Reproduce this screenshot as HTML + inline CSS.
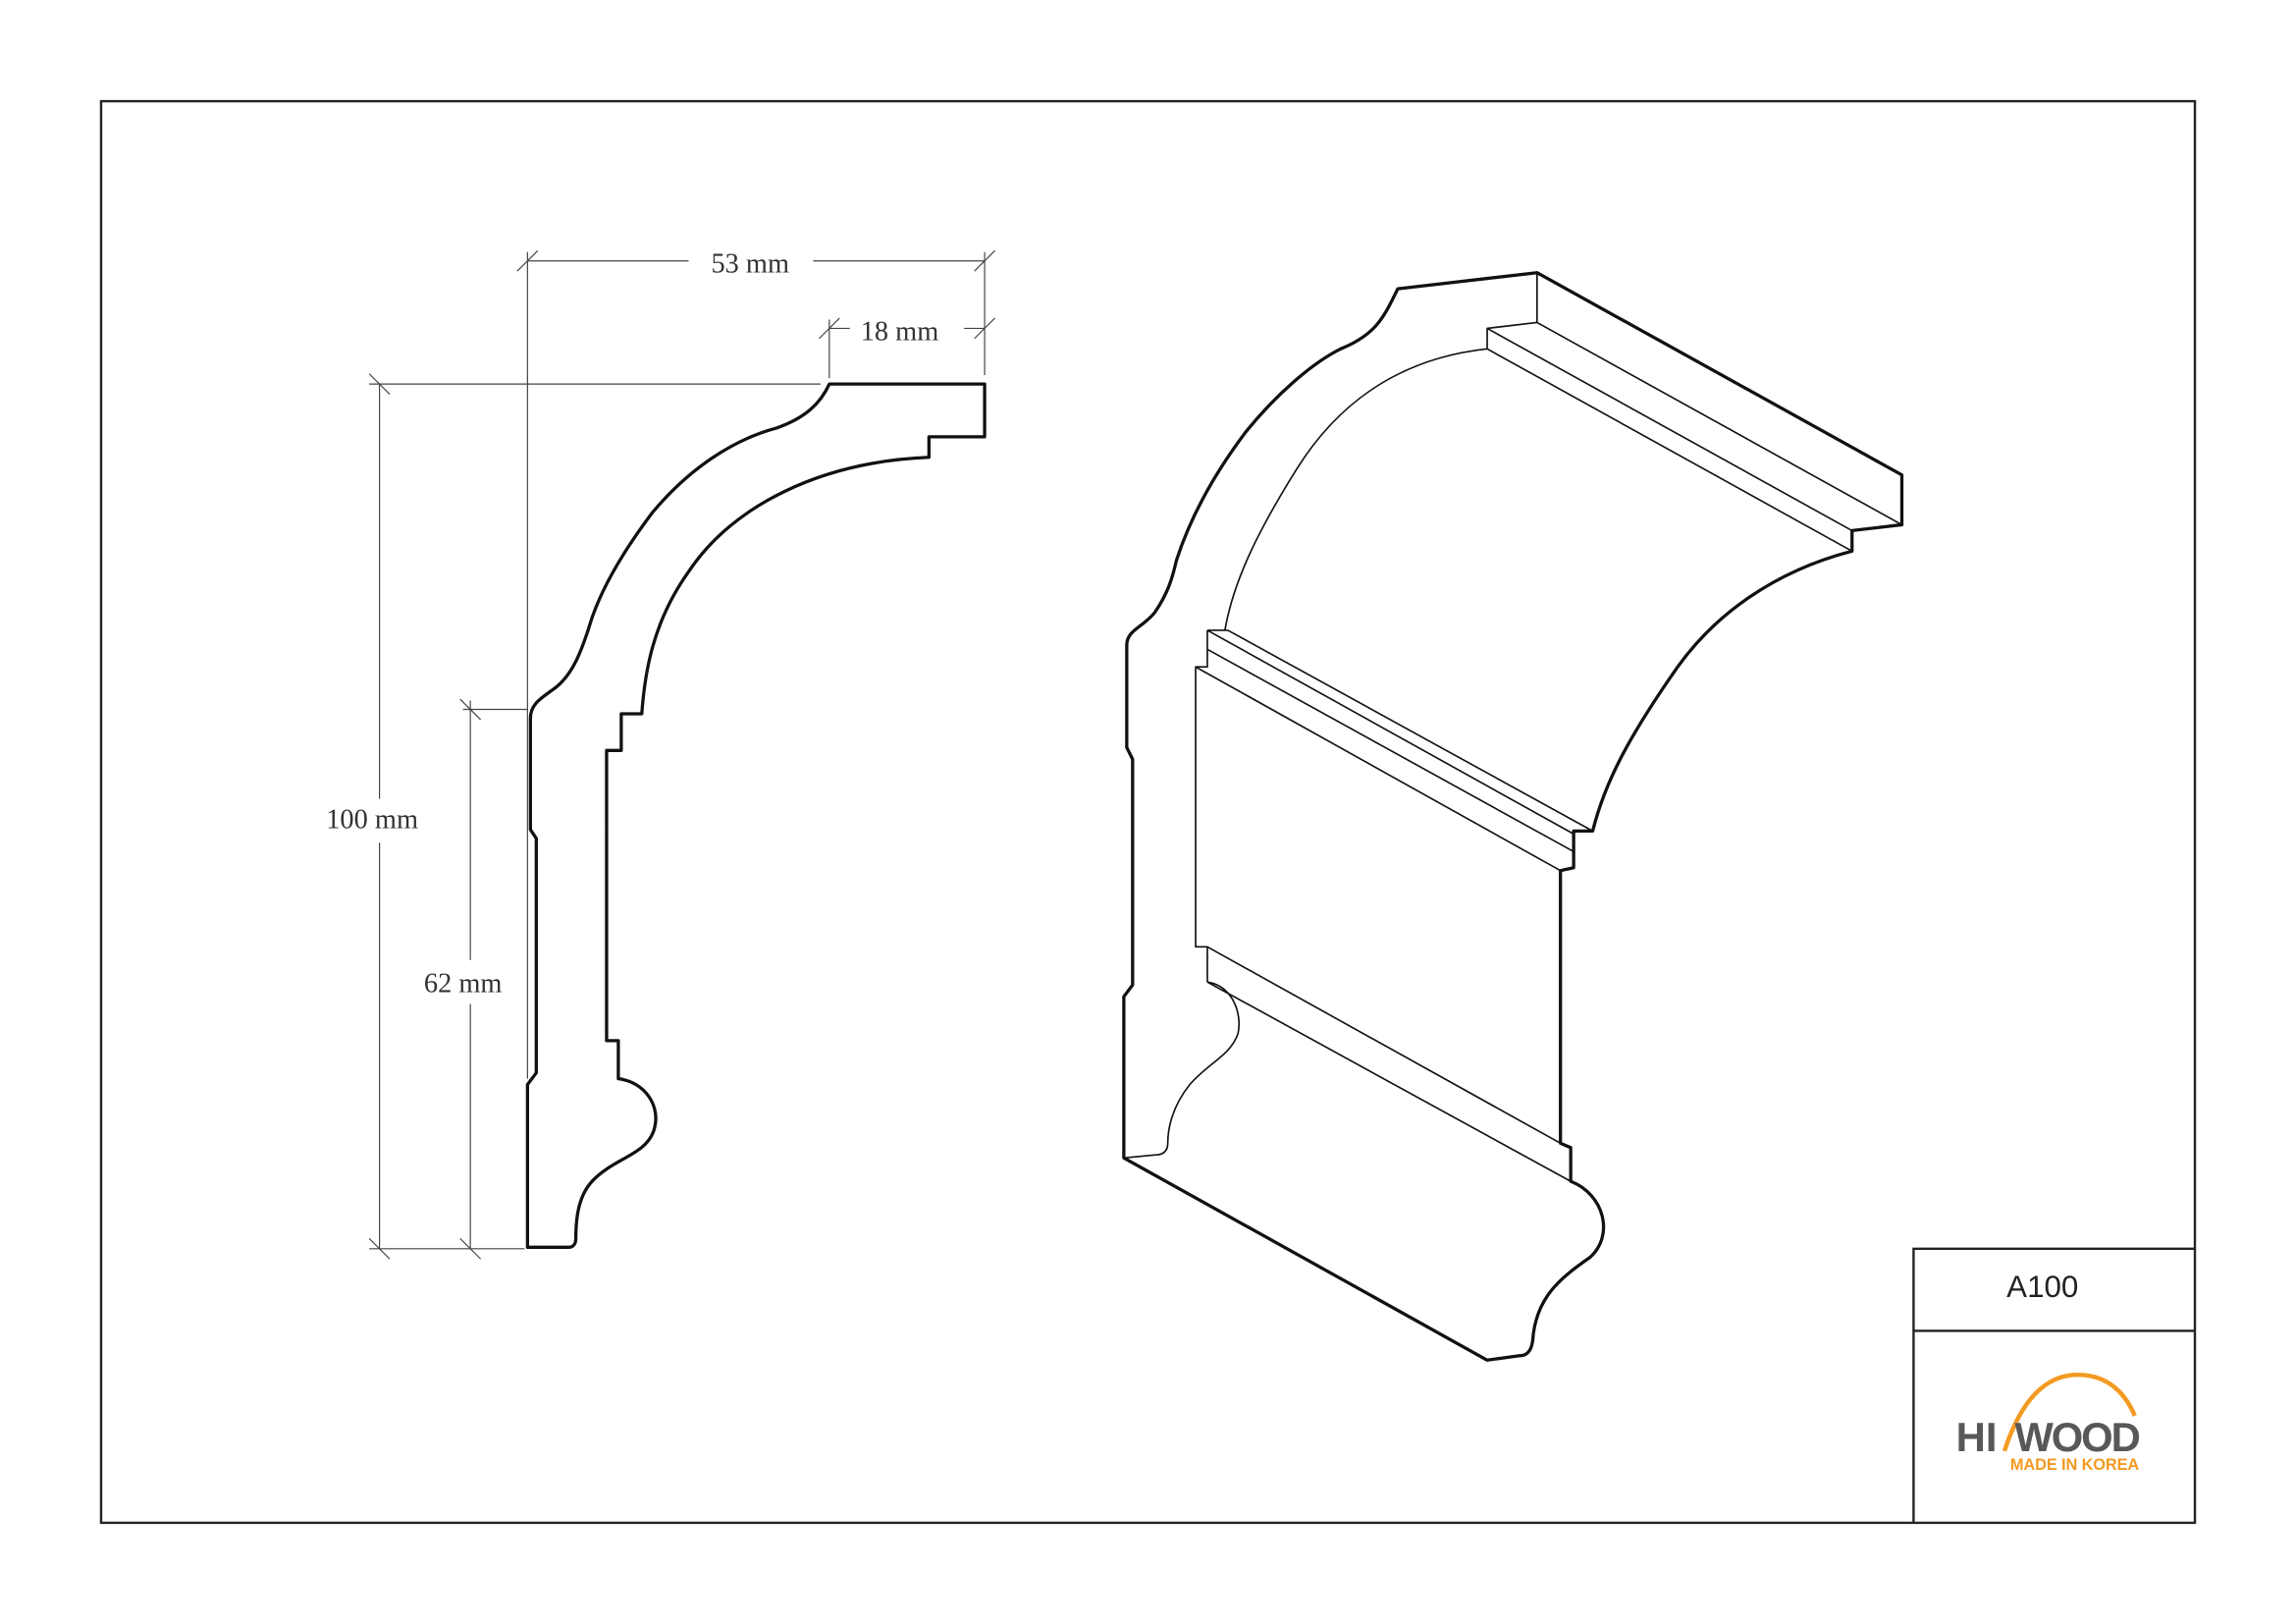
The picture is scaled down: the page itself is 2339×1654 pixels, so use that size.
<!DOCTYPE html>
<html><head><meta charset="utf-8"><style>
html,body{margin:0;padding:0;background:#fff;}
svg{display:block;}
</style></head><body>
<svg width="2339" height="1654" viewBox="0 0 1567 1108" xmlns="http://www.w3.org/2000/svg">
<rect x="0" y="0" width="1567" height="1108" fill="#fff"/>
<!-- frame -->
<rect x="69" y="69" width="1429" height="970" fill="none" stroke="#222" stroke-width="1.6"/>
<path d="M1306 1039 V852 H1498 M1306 908 H1498" fill="none" stroke="#222" stroke-width="1.6"/>
<text x="1394" y="885" font-family="Liberation Sans, sans-serif" font-size="21" text-anchor="middle" fill="#222">A100</text>
<!-- logo -->
<path d="M1368 990 Q1385 938 1418 938 Q1445 938 1457 966" fill="none" stroke="#f39a22" stroke-width="3"/>
<text x="1335" y="990" font-family="Liberation Sans, sans-serif" font-weight="bold" font-size="28" fill="#58585a">HI</text>
<text x="1375" y="990" font-family="Liberation Sans, sans-serif" font-weight="bold" font-size="28" fill="#58585a" textLength="86">WOOD</text>
<text x="1372" y="1003" font-family="Liberation Sans, sans-serif" font-weight="bold" font-size="11" fill="#f39a22" textLength="88">MADE IN KOREA</text>

<!-- dimension lines -->
<g stroke="#444" stroke-width="0.8" fill="none">
<path d="M360 172 V736 M360 178 H470 M555 178 H672 M672 172 V256 M566 218 V258 M566 224 H580 M658 224 H672 M252 262 H560 M259 262 V545 M259 575 V852 M252 852 H358 M321 478 V655 M321 685 V852 M316 484 H360"/>
<path d="M353 185 L367 171 M665 185 L679 171 M559 231 L573 217 M665 231 L679 217 M252 255 L266 269 M252 845 L266 859 M314 845 L328 859 M314 477 L328 491"/>
</g>
<g font-family="Liberation Serif, serif" font-size="19" fill="#333">
<text x="512" y="186" text-anchor="middle">53 mm</text>
<text x="614" y="232" text-anchor="middle">18 mm</text>
<text x="254" y="565" text-anchor="middle">100 mm</text>
<text x="316" y="677" text-anchor="middle">62 mm</text>
</g>

<!-- profile -->
<path d="M566 262 H672 V298 H634 V312 C560 315 500 345 470 390 C445 425 440 460 438 487 H424 V512 H414 V710 H422 V736 C440 738 452 755 446 772 C440 788 420 790 405 805 C395 815 393 830 393 845 C393 849 391 851 388 851 H360 V740 L366 732 V572 L362 566 V490 C362 480 370 476 378 470 C392 460 398 440 402 428 C410 400 430 370 445 350 C470 320 500 300 530 292 C550 285 560 275 566 262 Z" fill="none" stroke="#111" stroke-width="2.2" stroke-linejoin="round"/>

<!-- 3D view -->
<g fill="none" stroke="#111" stroke-linejoin="round">
<path stroke-width="2.2" d="M954 197 L1049 186 L1298 324 V358 L1264 362 V376 C1210 390 1170 420 1145 455 C1110 505 1095 535 1087 567 H1074 V592 L1065 594 V780 L1072 783 V806 C1095 815 1102 843 1085 858 C1065 872 1048 885 1046 915 C1045 922 1042 925 1037 925 L1015 928 L767 790 V680 L773 672 V518 L769 510 V440 C769 430 780 428 788 418 C797 405 800 395 803 382 C815 345 835 315 850 295 C870 270 895 248 915 238 C940 228 945 215 954 197 Z"/>
<g stroke-width="1.1">
<path d="M1049 186 V220 L1015 224 V238 M1049 220 L1298 358 M1015 224 L1264 362 M1015 238 L1264 376"/>
<path d="M1015 238 C950 245 910 280 885 320 C860 360 842 395 836 430"/>
<path d="M824 430 H838 L1087 567 M824 430 L1074 569 M824 430 V455 H816 V646 H824 V670 M824 443 L1074 581 M816 455 L1065 594 M824 646 L1065 780 M824 670 L1072 806"/>
<path d="M824 670 C840 672 848 690 845 705 C840 720 825 725 812 740 C800 755 797 770 797 780 C797 786 793 788 788 788 L767 790"/>
</g>
</g>
</svg>
</body></html>
